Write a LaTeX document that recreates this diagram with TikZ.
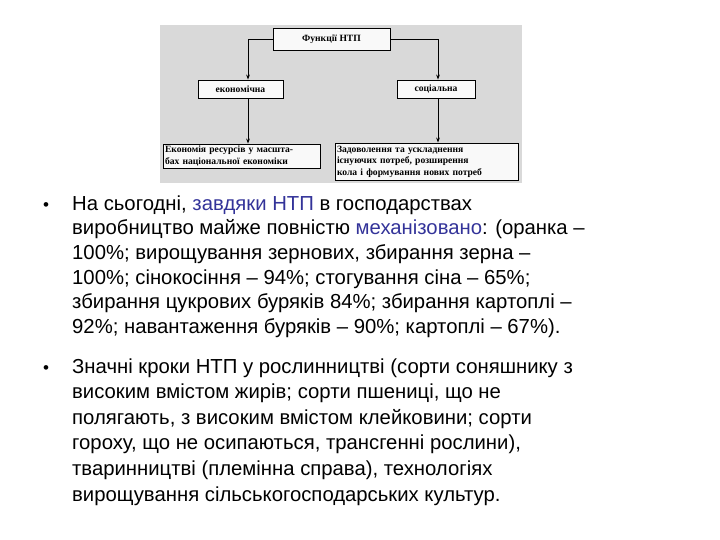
\documentclass[tikz,border=0pt]{standalone}
\usepackage{fontspec}
\setmainfont{Liberation Sans}
\newfontfamily\dserif{Liberation Serif}
\usetikzlibrary{arrows.meta}
\definecolor{hl}{HTML}{333399}
\definecolor{bg}{HTML}{D9D9D9}
\begin{document}
\begin{tikzpicture}[x=1pt,y=-1pt,
  bx/.style={draw=black,line width=0.9pt,fill=white!85!bg,inner sep=0pt,font=\dserif\fontsize{9.6}{11.5}\selectfont\bfseries},
  arr/.style={-{Stealth[length=5pt]},line width=0.8pt},
  ln/.style={anchor=base west,inner sep=0pt,font=\fontsize{20.3}{22}\selectfont},
  bul/.style={anchor=base west,inner sep=0pt,font=\fontsize{17}{20}\selectfont}]
\useasboundingbox (0,0) rectangle (720,540);
\fill[bg] (160,25) rectangle (522,183);
\node[bx,minimum width=117,minimum height=22] (f) at (331.5,39) {Функції НТП};
\node[bx,minimum width=85,minimum height=18] (e) at (240.5,89) {економічна};
\node[bx,minimum width=78,minimum height=18] (s) at (436,89) {соціальна};
\node[bx,text width=153,inner xsep=2,minimum height=24,align=left] (eb) at (241.5,156) {Економія ресурсів у масшта-\\бах національної економіки};
\node[bx,text width=179,inner xsep=2,minimum height=37,align=left] (sb) at (426.5,161.5) {Задоволення та ускладнення\\існуючих потреб, розширення\\кола і формування нових потреб};
\draw[arr] (f.west) -| (e.north -| 248,0);
\draw[arr] (f.east) -| (s.north -| 438,0);
\draw[arr] (e.south -| 248,0) -- (eb.north -| 248,0);
\draw[arr] (s.south -| 438,0) -- (sb.north -| 438,0);
\node[bul] (b1) at (43,211) {•};
\node[ln] (l1) at (72,211) {На сьогодні, \textcolor{hl}{завдяки НТП} в господарствах};
\node[ln] (l2) at (72,235) {виробництво майже повністю \textcolor{hl}{механізовано}: (оранка –};
\node[ln] (l3) at (72,259) {100\%; вирощування зернових, збирання зерна –};
\node[ln] (l4) at (72,284) {100\%; сінокосіння – 94\%; стогування сіна – 65\%;};
\node[ln] (l5) at (72,308) {збирання цукрових буряків 84\%; збирання картоплі –};
\node[ln] (l6) at (72,333) {92\%; навантаження буряків – 90\%; картоплі – 67\%).};
\node[bul] (b2) at (43,373) {•};
\node[ln] (m1) at (72,373) {Значні кроки НТП у рослинництві (сорти соняшнику з};
\node[ln] (m2) at (72,398) {високим вмістом жирів; сорти пшениці, що не};
\node[ln] (m3) at (72,424) {полягають, з високим вмістом клейковини; сорти};
\node[ln] (m4) at (72,449) {гороху, що не осипаються, трансгенні рослини),};
\node[ln] (m5) at (72,475) {тваринництві (племінна справа), технологіях};
\node[ln] (m6) at (72,501) {вирощування сільськогосподарських культур.};
\end{tikzpicture}
\end{document}
